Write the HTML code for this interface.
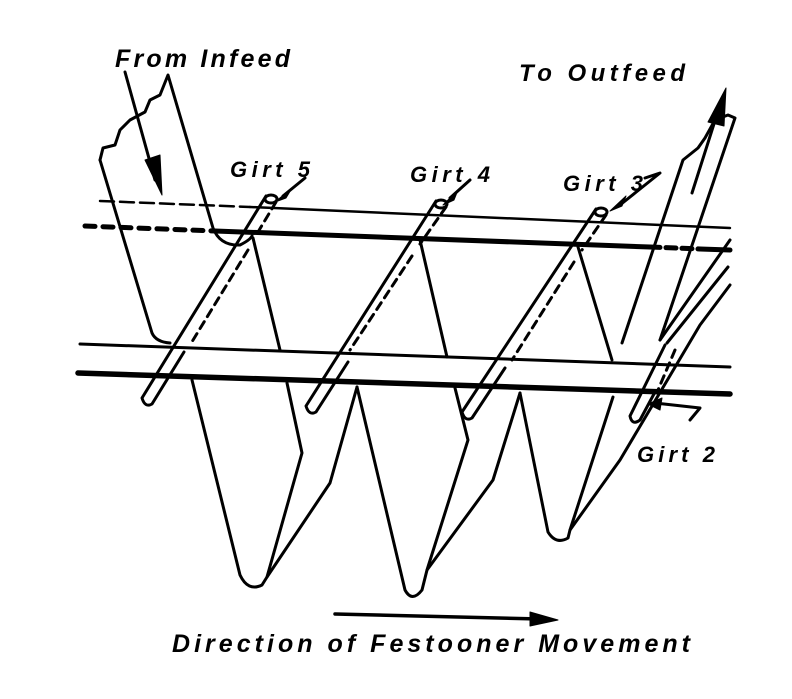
<!DOCTYPE html>
<html><head><style>
html,body{margin:0;padding:0;background:#fff;}
svg{display:block;}
text{font-family:"Liberation Sans",sans-serif;font-weight:bold;font-style:italic;fill:#000;}
</style></head><body>
<svg width="792" height="699" viewBox="0 0 792 699" xmlns="http://www.w3.org/2000/svg">
<g stroke="#000" fill="none" stroke-linecap="round" stroke-linejoin="round">
<!-- rails -->
<line x1="100" y1="201" x2="250" y2="207" stroke-width="2.5" stroke-dasharray="14 6"/>
<line x1="250" y1="207" x2="730" y2="228" stroke-width="2.5"/>
<line x1="85" y1="226" x2="215" y2="231" stroke-width="5" stroke-dasharray="10 8"/>
<line x1="215" y1="231" x2="650" y2="247" stroke-width="5"/>
<line x1="650" y1="247" x2="700" y2="249" stroke-width="5" stroke-dasharray="10 6"/>
<line x1="700" y1="249" x2="730" y2="250" stroke-width="5"/>
<line x1="80" y1="344" x2="730" y2="367" stroke-width="3"/>
<line x1="78" y1="373" x2="730" y2="394" stroke-width="5.5"/>
<!-- infeed web -->
<path d="M100,160 L152,333 Q156,342 170,343" stroke-width="3"/>
<path d="M100,160 L103,148 L115,145 L120,130 L130,120 L145,112 L150,100 L160,95 L168,75 L213,228 Q220,246 240,245 Q250,240 252,236" stroke-width="3"/>
<line x1="125" y1="72" x2="155" y2="180" stroke-width="3"/>
<polygon points="145,160 162,195 160,155" fill="#000" stroke-width="1"/>
<!-- festoon web -->
<path d="M253,238 L280,350 M287,383 L302,453 L267,577" stroke-width="3"/>
<path d="M192,380 L240,575 Q248,592 262,585 L267,577 L330,483 L357,387" stroke-width="3"/>
<path d="M420,240 L447,357 M455,388 L468,440 L427,570" stroke-width="3"/>
<path d="M357,387 L405,590 Q412,603 422,590 L427,570 L493,480 L520,393" stroke-width="3"/>
<path d="M578,247 L612,360" stroke-width="3"/>
<path d="M520,393 L548,532 Q556,545 568,538 L570,530 L613,397" stroke-width="3"/>
<path d="M570,530 L620,460 L700,325 L730,285" stroke-width="3"/>
<path d="M660,340 L730,240 M667,343 L728,267" stroke-width="3"/>
<!-- outfeed -->
<path d="M622,343 L683,160 L698,148 L705,138 L715,120 L728,115 L735,118 L660,340" stroke-width="3"/>
<line x1="692" y1="193" x2="720" y2="105" stroke-width="3"/>
<polygon points="708,122 726,88 724,126" fill="#000" stroke-width="1"/>
<!-- girts -->
<g stroke-width="3">
<path d="M266,196 L142,398 Q145,408 152,404 L184,352"/>
<path d="M276,202 L255,237 M248,250 L190,345" stroke-dasharray="8 6"/>
<ellipse cx="271" cy="199" rx="6" ry="4"/>
<path d="M436,201 L306,406 Q309,416 316,412 L348,362"/>
<path d="M446,207 L420,244 M412,256 L350,350" stroke-dasharray="8 6"/>
<ellipse cx="441" cy="204" rx="6" ry="4"/>
<path d="M596,209 L462,412 Q465,422 472,418 L505,368"/>
<path d="M606,215 L582,250 M574,262 L512,360" stroke-dasharray="8 6"/>
<ellipse cx="601" cy="212" rx="6" ry="4"/>
<path d="M665,345 L630,416 Q632,426 640,420 L655,392"/>
<path d="M675,350 L658,390" stroke-dasharray="8 6"/>
</g>
<!-- girt label arrows -->
<line x1="305" y1="178" x2="283" y2="196" stroke-width="3"/>
<polygon points="275,202 292,188 286,198" fill="#000"/>
<line x1="470" y1="180" x2="450" y2="198" stroke-width="3"/>
<polygon points="443,205 458,190 454,200" fill="#000"/>
<path d="M645,178 L660,173 L620,205" stroke-width="3"/>
<polygon points="610,211 626,196 622,206" fill="#000"/>
<path d="M655,403 L700,408 L690,420" stroke-width="3"/>
<polygon points="648,404 662,398 660,410" fill="#000"/>
<!-- direction arrow -->
<line x1="335" y1="614" x2="540" y2="619" stroke-width="3.5"/>
<polygon points="530,612 558,620 530,626" fill="#000"/>
</g>
<text x="115" y="67" font-size="25" textLength="175" lengthAdjust="spacing">From  Infeed</text>
<text x="519" y="81" font-size="24" textLength="166" lengthAdjust="spacing">To  Outfeed</text>
<text x="230" y="177" font-size="22" textLength="80" lengthAdjust="spacing">Girt 5</text>
<text x="410" y="182" font-size="22" textLength="80" lengthAdjust="spacing">Girt 4</text>
<text x="563" y="191" font-size="22" textLength="80" lengthAdjust="spacing">Girt 3</text>
<text x="637" y="462" font-size="22" textLength="78" lengthAdjust="spacing">Girt 2</text>
<text x="172" y="652" font-size="25" textLength="518" lengthAdjust="spacing">Direction  of  Festooner  Movement</text>
</svg>
</body></html>
